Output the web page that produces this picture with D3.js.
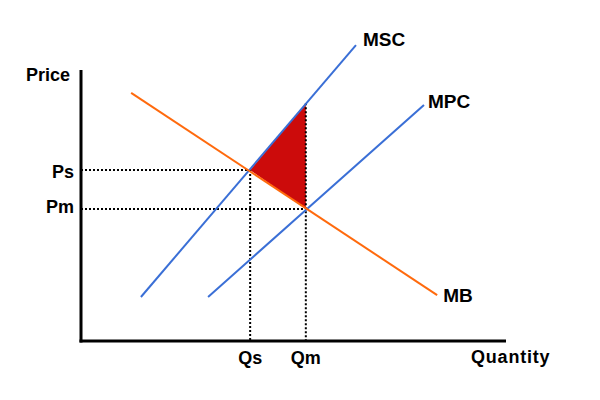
<!DOCTYPE html>
<html>
<head>
<meta charset="utf-8">
<script src="https://cdn.jsdelivr.net/npm/d3@7"></script>
<style>
  html, body { margin: 0; padding: 0; background: #fff; }
  svg { display: block; }
  text { font-family: "Liberation Sans", Arial, sans-serif; font-weight: bold; fill: #000; }
</style>
</head>
<body>
<svg id="chart" width="600" height="400"></svg>
<script>
// ---- data (chart units: quantity 0-100, price 0-100) ----
const qLabels = ["Qs", "Qm"];
const qValues = [39.8, 52.9];
const pLabels = ["Ps", "Pm"];
const pValues = [63.3, 48.9];
const curveNames = ["MSC", "MPC", "MB"];
const mscPoints = [[14.1, 16.3], [64.7, 109.6]];
const mpcPoints = [[29.9, 16.3], [80.7, 87.4]];
const mbPoints  = [[11.8, 91.9], [83.8, 17.0]];
const dwlPoints = [[39.8, 63.3], [52.9, 88.1], [52.9, 48.9]];
const axisTitles = ["Price", "Quantity"];

const svg = d3.select("#chart");
const x = d3.scaleLinear().domain([0, 100]).range([81, 506]);
const y = d3.scaleLinear().domain([0, 100]).range([341, 71]);

const line = d3.line().x(d => x(d[0])).y(d => y(d[1]));

// deadweight-loss triangle
svg.append("path")
  .attr("d", line(dwlPoints) + "Z")
  .attr("fill", "#cc0b0b");

// dotted guide lines
function dotted(pts) {
  svg.append("path").attr("d", line(pts)).attr("fill", "none")
    .attr("stroke", "#000").attr("stroke-width", 2).attr("stroke-dasharray", "2,2");
}
dotted([[0, pValues[0]], [qValues[0], pValues[0]]]);
dotted([[0, pValues[1]], [qValues[1], pValues[1]]]);
dotted([[qValues[0], pValues[0]], [qValues[0], 0]]);
dotted([[qValues[1], dwlPoints[1][1]], [qValues[1], 0]]);

// curves
const curves = [
  { name: curveNames[0], pts: mscPoints, color: "#3a6fd6", dx: 7, dy: 1 },
  { name: curveNames[1], pts: mpcPoints, color: "#3a6fd6", dx: 4, dy: 3 },
  { name: curveNames[2], pts: mbPoints,  color: "#ff6a0d", dx: 6, dy: 7 }
];
curves.forEach(c => {
  svg.append("path").attr("d", line(c.pts))
    .attr("fill", "none").attr("stroke", c.color).attr("stroke-width", 2);
  const end = c.pts[1];
  svg.append("text")
    .attr("x", x(end[0]) + c.dx)
    .attr("y", y(end[1]) + c.dy)
    .attr("font-size", 19)
    .text(c.name);
});

// axes
svg.append("line").attr("x1", x(0)).attr("x2", x(0))
  .attr("y1", 70).attr("y2", y(0) + 1.5)
  .attr("stroke", "#000").attr("stroke-width", 3);
svg.append("line").attr("x1", x(0) - 1.5).attr("x2", x(100))
  .attr("y1", y(0)).attr("y2", y(0))
  .attr("stroke", "#000").attr("stroke-width", 3);

// tick labels
const pOffsets = [8, 4];
pLabels.forEach((t, i) => {
  svg.append("text").attr("x", x(0) - 7).attr("y", y(pValues[i]) + pOffsets[i])
    .attr("text-anchor", "end").attr("font-size", 18).text(t);
});
qLabels.forEach((t, i) => {
  svg.append("text").attr("x", x(qValues[i])).attr("y", y(0) + 23)
    .attr("text-anchor", "middle").attr("font-size", 18).text(t);
});

// axis titles
svg.append("text").attr("x", x(0) - 11).attr("y", 81)
  .attr("text-anchor", "end").attr("font-size", 18).text(axisTitles[0]);
svg.append("text").attr("x", 471).attr("y", 363)
  .attr("font-size", 18).attr("letter-spacing", 0.8).text(axisTitles[1]);
</script>
</body>
</html>
